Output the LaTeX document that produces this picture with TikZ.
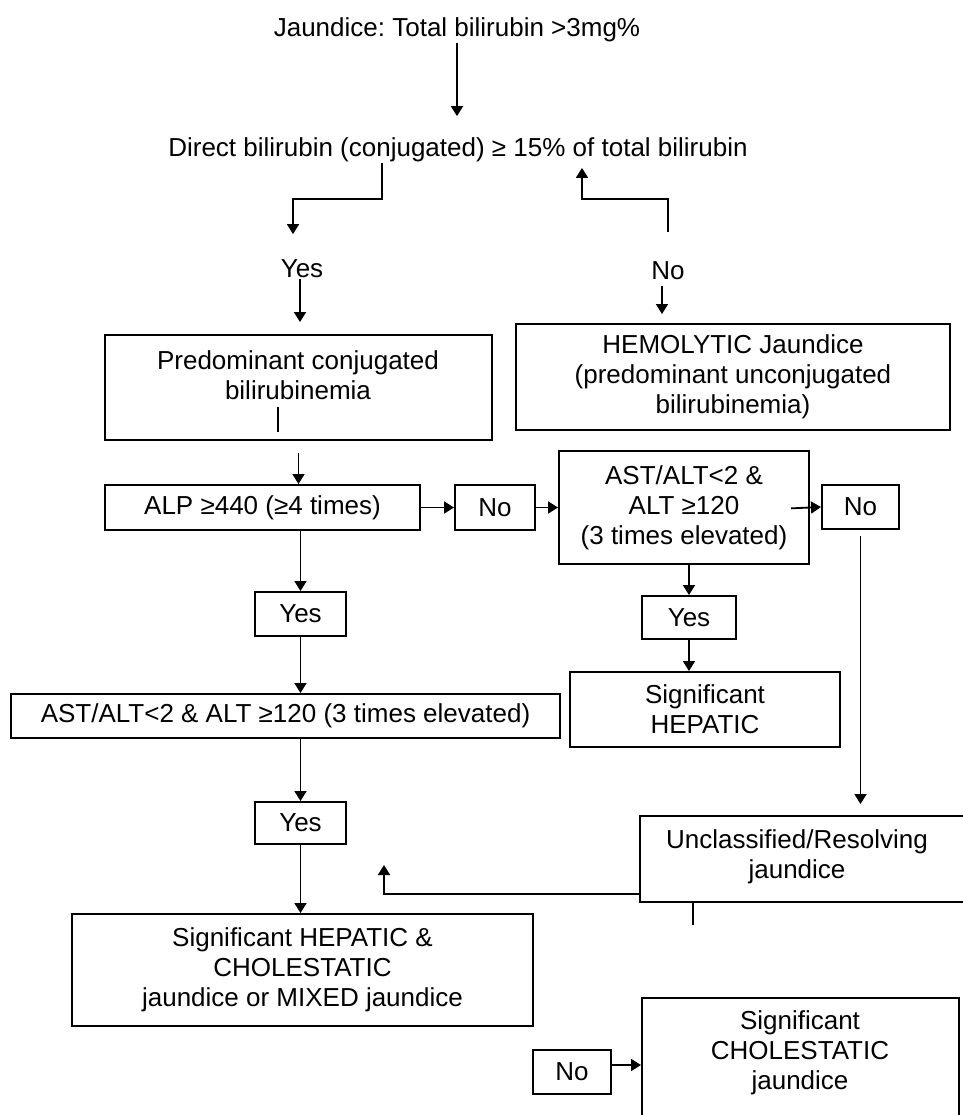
\documentclass[tikz,border=0pt]{standalone}
\usepackage{fontspec}
\setmainfont{Liberation Sans}
\usetikzlibrary{arrows.meta}
\frenchspacing

\begin{document}
\begin{tikzpicture}[x=0.5pt, y=-0.5pt, line width=0.9pt,
                    >={Triangle[length=5pt,width=6pt]},
                    every node/.style={font=\fontsize{13}{15}\selectfont},
                    box/.style={draw, line width=1pt, align=center, inner sep=0pt},
                    txt/.style={inner sep=0pt, text height=10pt, text depth=3pt}]
  \useasboundingbox (0,0) rectangle (963,1115);
  \clip (0,0) rectangle (963,1115);

  % plain text steps
  \node[txt] (title)  at (457,29)  {Jaundice: Total bilirubin >3mg\%};
  \node[txt] (direct) at (458,149) {Direct bilirubin (conjugated) ≥ 15\% of total bilirubin};
  \node[txt] (yes0)   at (302,270) {Yes};
  \node[txt] (no0)    at (668,272) {No};

  % boxes
  \node[box, minimum width=193.5pt, minimum height=52.5pt] (pred) at (298.5,387.5) {};
  \node[align=center] (predtext) at (298,375) {Predominant conjugated\\bilirubinemia};
  \node[box, minimum width=217pt, minimum height=53pt] (hemo) at (733,377)
       {HEMOLYTIC Jaundice\\(predominant unconjugated\\bilirubinemia)};
  \node[box, minimum width=157.5pt, minimum height=22.5pt] (alp) at (262.5,507.5) {ALP ≥440 (≥4 times)};
  \node[box, minimum width=40pt, minimum height=22.5pt]    (noA) at (495,507.5) {No};
  \node[box, minimum width=125pt, minimum height=56.5pt]   (ast) at (684,507.5)
       {AST/ALT<2 \&\\ALT ≥120\\(3 times elevated)};
  \node[box, minimum width=38.5pt, minimum height=22pt]    (noB) at (860.5,507) {No};
  \node[box, minimum width=45.5pt, minimum height=22pt]    (yesA) at (300.5,614) {Yes};
  \node[box, minimum width=47pt, minimum height=21.5pt]    (yesB) at (689,617.5) {Yes};
  \node[box, minimum width=135pt, minimum height=37.5pt]   (sighep) at (705,709.5) {Significant\\HEPATIC};
  \node[box, minimum width=274.5pt, minimum height=22pt]   (longast) at (285.5,716)
       {AST/ALT<2 \& ALT ≥120 (3 times elevated)};
  \node[box, minimum width=45.5pt, minimum height=21pt]    (yesC) at (300.5,823) {Yes};
  \node[box, minimum width=230.5pt, minimum height=56pt]   (hepchol) at (302.5,970)
       {Significant HEPATIC \&\\CHOLESTATIC\\jaundice or MIXED jaundice};
  \node[box, minimum width=170pt, minimum height=43pt]     (unclass) at (810,859) {};
  \node[align=center] (uncltext) at (797,857) {Unclassified/Resolving\\jaundice};
  \node[box, minimum width=39pt, minimum height=22pt]      (noC) at (572,1072) {No};
  \node[box, minimum width=158.5pt, minimum height=71pt]   (sigchol) at (800.5,1069) {};
  \node[align=center] (sigtext) at (800,1053) {Significant\\CHOLESTATIC\\jaundice};

  % bends and loose ends
  \coordinate (yesturn)  at (382,199);
  \coordinate (yesdrop)  at (293,199);
  \coordinate (noturn)   at (582,199);
  \coordinate (predstub) at (278,432);
  \coordinate (unclturn) at (384,894);
  \coordinate (uncltip)  at (384,865);
  \coordinate (unclstub) at (693,925);

  \draw[->, shorten >=9.5pt] (title) -- (title |- direct.north);
  \draw[->, shorten >=11pt] (direct.south -| yesturn) -- (yesturn) -- (yesdrop) -- (yesdrop |- yes0.north);
  \draw[->, shorten <=13pt, shorten >=2.5pt] (no0.north) |- (noturn) -- (noturn |- direct.south);
  \draw[->, shorten <=-2.5pt, shorten >=6pt] ([xshift=-1pt]yes0.south) -- ([xshift=-1pt]yes0.south |- pred.north);
  \draw[->, shorten >=4.5pt] ([xshift=-3pt]no0.south) -- ([xshift=-3pt]no0.south |- hemo.north);
  \draw (predstub |- predtext.south) -- (predstub);
  \draw[->, shorten <=6pt] (pred.south) -- (pred.south |- alp.north);

  \path[->] (alp) edge (noA)
            (noA) edge (ast);
  \draw[->, shorten <=-9.5pt] (ast.east) -- (noB.west);
  \draw[->] (alp.south -| yesA) -- (yesA);
  \draw[->] (yesA) -- (yesA |- longast.north);
  \draw[->] (longast.south -| yesC) -- (yesC);
  \draw[->] (yesC) -- (yesC |- hepchol.north);
  \draw[->] (ast.south -| yesB) -- (yesB);
  \draw[->] (yesB) -- (yesB |- sighep.north);
  \draw[->, shorten <=3pt, shorten >=5.5pt] (noB.south) -- (noB.south |- unclass.north);
  \draw[->] (unclass.west |- unclturn) -- (unclturn) -- (uncltip);
  \draw (unclstub |- unclass.south) -- (unclstub);
  \draw[->] ([yshift=3.5pt]noC.east) -- ([yshift=3.5pt]noC.east -| sigchol.west);
\end{tikzpicture}
\end{document}
